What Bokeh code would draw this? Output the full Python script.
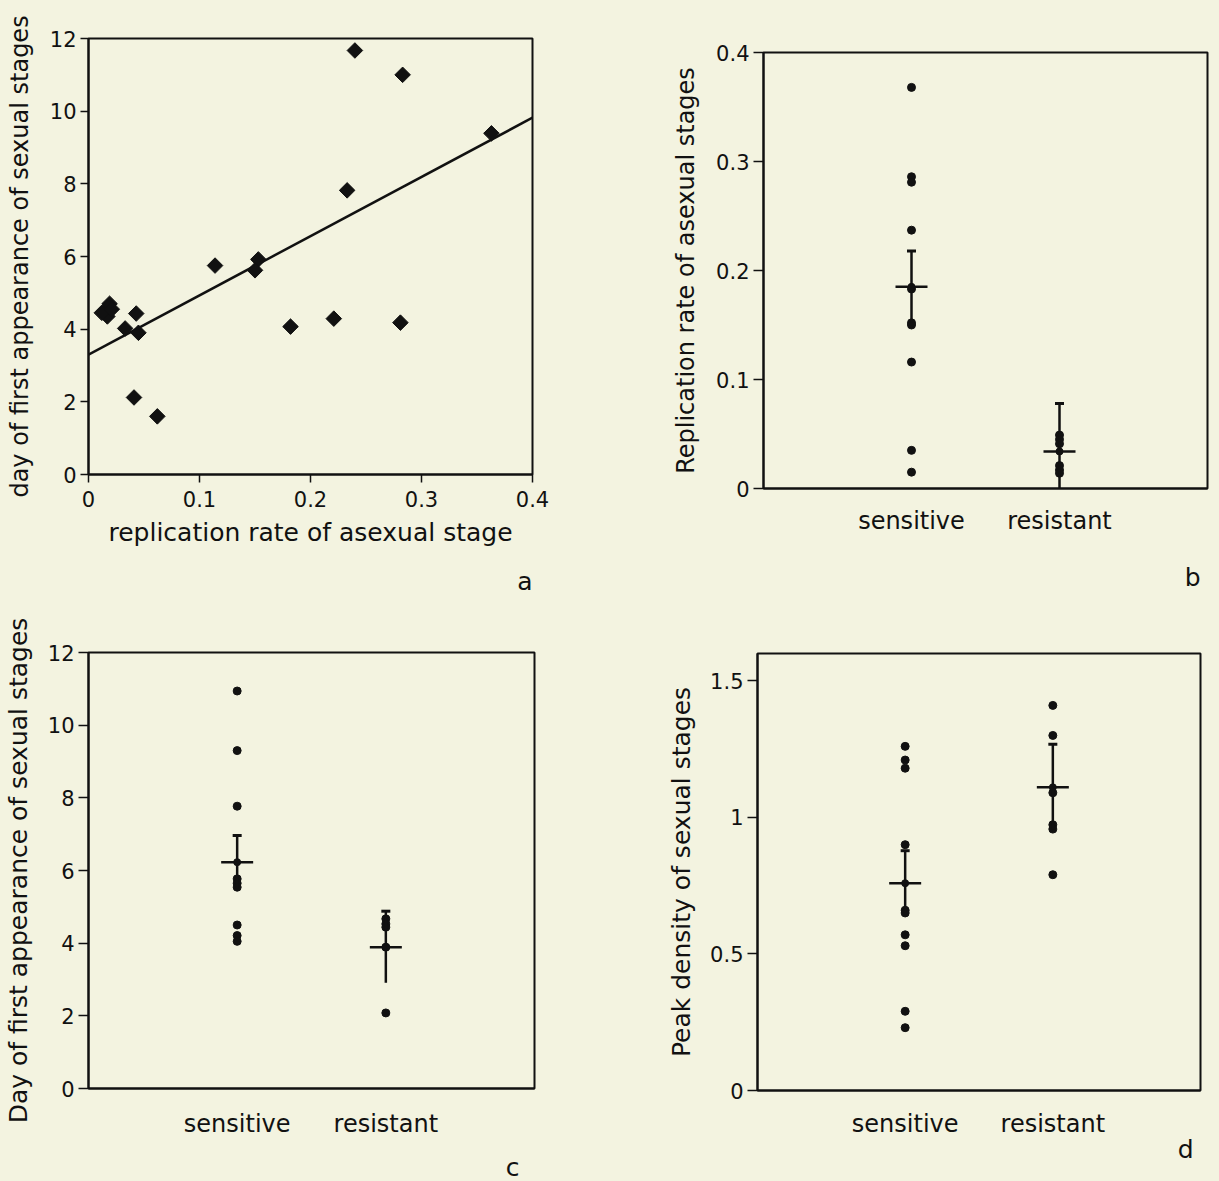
import numpy as np
from bokeh.plotting import figure
from bokeh.layouts import column, row
from bokeh.models import FixedTicker, Title
from bokeh.embed import file_html
from bokeh.resources import INLINE

# ---------------- data ----------------
# panel a: replication rate vs day of first appearance
a_rate = [0.240, 0.283, 0.363, 0.233, 0.114, 0.153, 0.150, 0.182, 0.221, 0.281,
          0.043, 0.033, 0.045, 0.041, 0.062, 0.015, 0.019, 0.017, 0.012, 0.021]
a_day = [11.67, 11.0, 9.39, 7.82, 5.75, 5.92, 5.62, 4.07, 4.29, 4.18,
         4.43, 4.02, 3.90, 2.12, 1.60, 4.50, 4.70, 4.35, 4.45, 4.55]
a_fit_intercept = 3.30
a_fit_slope = 16.3

groups = ["sensitive", "resistant"]
group_pos = [1, 2]

# panel b: replication rate of asexual stages
b_sens = [0.368, 0.286, 0.281, 0.237, 0.183, 0.152, 0.150, 0.116, 0.035, 0.015]
b_res = [0.049, 0.045, 0.041, 0.021, 0.017, 0.014]
b_mean = [0.185, 0.034]
b_lo = [0.152, -0.010]
b_hi = [0.218, 0.078]

# panel c: day of first appearance of sexual stages
c_sens = [10.94, 9.30, 7.77, 5.77, 5.65, 5.54, 4.50, 4.21, 4.05]
c_res = [4.67, 4.53, 4.44, 3.89, 2.08]
c_mean = [6.23, 3.89]
c_lo = [5.50, 2.91]
c_hi = [6.96, 4.88]

# panel d: peak density of sexual stages
d_sens = [1.26, 1.21, 1.18, 0.90, 0.66, 0.65, 0.57, 0.53, 0.29, 0.23]
d_res = [1.41, 1.30, 1.09, 0.973, 0.957, 0.79]
d_mean = [0.759, 1.11]
d_lo = [0.645, 0.955]
d_hi = [0.878, 1.268]

# ---------------- style ----------------
BG = "#f3f3e0"
FONT = "DejaVu Sans"
INK = "#111111"


def base_fig(fw, fh, bl, br, bt, bb, xr, yr):
    p = figure(width=fw + bl + br, height=fh + bt + bb,
               x_range=xr, y_range=yr, output_backend="svg", toolbar_location=None,
               min_border_left=bl, min_border_right=br, min_border_top=bt, min_border_bottom=bb,
               background_fill_color=BG, border_fill_color=BG)
    p.grid.visible = False
    p.outline_line_color = INK
    p.outline_line_width = 2
    for ax in (p.xaxis[0], p.yaxis[0]):
        ax.axis_line_color = INK
        ax.axis_line_width = 2
        ax.major_tick_line_color = INK
        ax.major_tick_line_width = 1.5
        ax.major_tick_in = 0
        ax.minor_tick_line_color = None
        ax.major_label_text_font = FONT
        ax.major_label_text_font_size = "21px"
        ax.major_label_text_color = INK
        ax.axis_label_text_font = FONT
        ax.axis_label_text_font_size = "25px"
        ax.axis_label_text_font_style = "normal"
        ax.axis_label_text_color = INK
    return p


def panel_letter(p, txt, offset, standoff):
    p.add_layout(Title(text=txt, align="right", offset=offset, standoff=standoff,
                       text_font=FONT, text_font_size="25px", text_font_style="normal",
                       text_color=INK), "below")


def group_panel(p, sens, res, mean, lo, hi, ylabel, ticks, overrides, lab_standoff, cat_standoff):
    p.xaxis.ticker = FixedTicker(ticks=group_pos)
    p.xaxis.major_label_overrides = {k: v for k, v in zip(group_pos, groups)}
    p.xaxis.major_tick_out = 0
    p.xaxis.major_label_standoff = cat_standoff
    p.xaxis.major_label_text_font_size = "24px"
    p.yaxis.ticker = FixedTicker(ticks=ticks)
    p.yaxis.major_label_overrides = overrides
    p.yaxis.major_tick_out = 10
    p.yaxis.major_label_standoff = 4
    p.yaxis.axis_label = ylabel
    p.yaxis.axis_label_standoff = lab_standoff
    p.scatter([group_pos[0]] * len(sens), sens, size=8, color=INK)
    p.scatter([group_pos[1]] * len(res), res, size=8, color=INK)
    p.segment(group_pos, lo, group_pos, hi, line_width=2.5, color=INK)
    p.scatter(group_pos, hi, marker="dash", size=9, line_width=3, color=INK)
    p.scatter(group_pos, mean, marker="dash", size=32, line_width=2.5, color=INK)
    p.scatter(group_pos, mean, size=7, color=INK)


# ---------------- panel a ----------------
pa = base_fig(444, 436, 88, 76, 38, 142, (0, 0.4), (0, 12))
pa.xaxis.ticker = FixedTicker(ticks=[0, 0.1, 0.2, 0.3, 0.4])
pa.xaxis.major_label_overrides = {0: "0"}
pa.xaxis.major_tick_out = 8
pa.xaxis.major_label_standoff = 8
pa.xaxis.axis_label = "replication rate of asexual stage"
pa.xaxis.axis_label_standoff = 8
pa.yaxis.ticker = FixedTicker(ticks=[0, 2, 4, 6, 8, 10, 12])
pa.yaxis.major_tick_out = 8
pa.yaxis.major_label_standoff = 4
pa.yaxis.axis_label = "day of first appearance of sexual stages"
pa.yaxis.axis_label_text_font_size = "24px"
pa.yaxis.axis_label_standoff = 13
fx = np.array([0.0, 0.4])
pa.line(fx, a_fit_intercept + a_fit_slope * fx, line_width=2.5, color=INK)
pa.scatter(a_rate, a_day, marker="square", angle=np.pi / 4, size=11, color=INK)
panel_letter(pa, "a", 0, 30)

# ---------------- panel b ----------------
pb = base_fig(444, 436, 155, 4, 52, 128, (0, 3), (0, 0.4))
group_panel(pb, b_sens, b_res, b_mean, b_lo, b_hi, "Replication rate of asexual stages",
            [0, 0.1, 0.2, 0.3, 0.4], {0: "0"}, 13, 18)
pb.yaxis.axis_label_text_font_size = "24px"
panel_letter(pb, "b", 7, 46)

# ---------------- panel c ----------------
pc = base_fig(446, 436, 88, 74, 36, 110, (0, 3), (0, 12))
group_panel(pc, c_sens, c_res, c_mean, c_lo, c_hi, "Day of first appearance of sexual stages",
            [0, 2, 4, 6, 8, 10, 12], {}, 12, 21)
panel_letter(pc, "c", 15, 20)

# ---------------- panel d ----------------
pd_ = base_fig(443, 437, 149, 19, 37, 108, (0, 3), (0, 1.6))
group_panel(pd_, d_sens, d_res, d_mean, d_lo, d_hi, "Peak density of sexual stages",
            [0, 0.5, 1, 1.5], {0: "0", 1: "1"}, 11, 19)
panel_letter(pd_, "d", 7, -16)

layout = column(row(column(pa), column(pb)), row(column(pc), column(pd_)))
html = file_html(layout, INLINE)
html = html.replace("</head>",
                    "<style>html, body { background: %s; overflow: hidden; }</style></head>" % BG, 1)
open("out.html", "w").write(html)
